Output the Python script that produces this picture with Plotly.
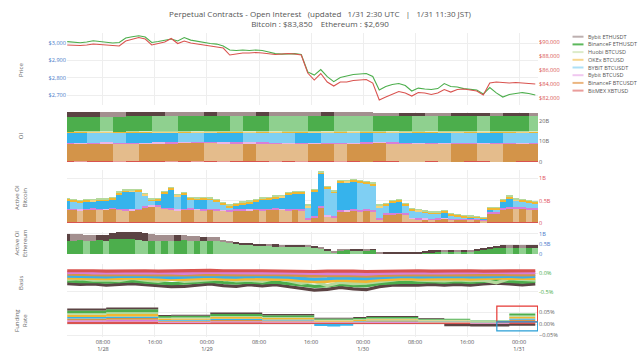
import pandas as pd
import plotly.graph_objects as go

# ---------------- data ----------------
START = "2025-01-28 02:30"
hours = pd.date_range(START, periods=73, freq="1h")
hours2 = pd.date_range(START, periods=37, freq="2h")

x_range = ["2025-01-28 02:28", "2025-01-31 02:55"]
tick_vals = ["2025-01-28 08:00", "2025-01-28 16:00", "2025-01-29 00:00", "2025-01-29 08:00",
             "2025-01-29 16:00", "2025-01-30 00:00", "2025-01-30 08:00", "2025-01-30 16:00",
             "2025-01-31 00:00"]
tick_text = ["08:00<br>1/28", "16:00", "00:00<br>1/29", "08:00", "16:00", "00:00<br>1/30",
             "08:00", "16:00", "00:00<br>1/31"]

names = ["Bybit ETHUSDT", "BinanceF ETHUSDT", "Huobi BTCUSD", "OKEx BTCUSD",
         "BYBIT BTCUSDT", "Bybit BTCUSD", "BinanceF BTCUSDT", "BitMEX XBTUSD"]

# Price (hourly)
eth_price = [3008,3003,3002,3006,3013,3009,3003,3000,3003,3029,3036,3042,3035,3003,3009,3017,3023,3012,
             3032,3017,3009,3003,2997,2994,2983,2960,2957,2960,2957,2960,2957,2948,2939,2936,2939,2939,
             2934,2833,2815,2847,2806,2777,2801,2810,2818,2821,2824,2807,2729,2749,2761,2766,2755,2723,
             2740,2735,2732,2737,2766,2749,2746,2737,2732,2729,2706,2743,2712,2688,2703,2709,2714,2709,2700]
btc_price = [89571,89500,89500,89571,89714,89643,89571,89429,89429,90143,90429,90643,90429,89571,89786,
             90000,90500,89786,90143,89857,89714,89571,89429,89357,89143,88143,88286,88429,88429,88500,
             88429,88357,88214,88286,88357,88286,88143,85571,84571,85500,84286,83714,84286,84286,84500,
             84571,84643,84143,81714,82143,82571,82929,82714,82286,82786,82714,82500,82714,83214,82857,
             83214,83286,83143,83000,82429,84143,84286,84214,84143,84214,84143,84071,84000]

# Open interest (billions, every 2h)
oi_bitmex = [0.26,0.25,0.26,0.26,0.25,0.25,0.26,0.27,0.26,0.26,0.25,0.25,0.24,0.25,0.25,0.26,0.25,0.25,0.24,
             0.24,0.25,0.24,0.24,0.23,0.24,0.24,0.23,0.23,0.24,0.23,0.23,0.24,0.24,0.23,0.23,0.24,0.24]
oi_binf_btc = [8.85,8.88,8.91,8.94,8.92,8.90,8.93,8.96,8.99,9.02,9.05,9.03,9.0,8.98,9.0,8.98,8.95,8.93,8.9,
               8.93,8.96,8.94,8.97,9.0,9.02,8.99,8.96,8.93,8.9,8.88,8.9,8.93,8.91,8.89,8.92,8.95,8.97]
oi_bybit_btcusd = [0.32,0.31,0.32,0.31,0.31,0.32,0.31,0.3,0.31,0.3,0.3,0.31,0.3,0.3,0.29,0.3,0.3,0.29,0.3,
                   0.29,0.29,0.3,0.29,0.29,0.28,0.29,0.29,0.28,0.29,0.28,0.28,0.29,0.28,0.28,0.29,0.28,0.28]
oi_bybit_btcusdt = [4.85,4.88,4.86,4.84,4.82,4.85,4.88,4.9,4.93,4.91,4.89,4.92,4.95,4.97,4.95,4.93,4.9,4.88,
                    4.9,4.93,4.91,4.89,4.87,4.9,4.88,4.86,4.89,4.92,4.94,4.96,4.94,4.92,4.95,4.97,4.95,4.93,4.91]
oi_okex = [0.45,0.46,0.45,0.44,0.45,0.46,0.47,0.46,0.45,0.46,0.45,0.44,0.45,0.46,0.45,0.45,0.44,0.45,0.46,
           0.45,0.44,0.45,0.44,0.44,0.45,0.44,0.43,0.44,0.45,0.44,0.43,0.44,0.43,0.44,0.44,0.43,0.44]
oi_huobi = [0.12,0.12,0.13,0.12,0.12,0.13,0.12,0.12,0.12,0.13,0.12,0.12,0.12,0.13,0.12,0.12,0.11,0.12,0.12,
            0.12,0.11,0.12,0.11,0.11,0.12,0.11,0.11,0.12,0.11,0.11,0.11,0.12,0.11,0.11,0.11,0.12,0.11]
oi_binf_eth = [7.2,7.23,7.26,7.24,7.27,7.3,7.33,7.31,7.29,7.32,7.35,7.37,7.4,7.38,7.4,7.42,7.4,7.37,7.35,
               7.37,7.4,7.38,7.35,7.32,7.34,7.36,7.38,7.36,7.33,7.35,7.37,7.39,7.37,7.39,7.41,7.43,7.41]
oi_bybit_eth = [2.2,2.22,2.25,2.23,2.2,2.24,2.28,2.3,2.27,2.24,2.21,2.23,2.2,2.17,2.14,2.16,2.12,2.08,2.04,
                2.0,2.02,1.97,1.93,1.9,1.5,1.46,1.48,1.5,1.47,1.44,1.46,1.49,1.52,1.5,1.52,1.55,1.53]

# Active OI Bitcoin (billions, hourly)
act_bitmex = [0.01,0.01,0.01,0.01,0.01,0.01,0.01,0.01,0.01,0.01,0.01,0.01,0.01,0.01,0.01,0.01,0.01,0.01,
              0.01,0.01,0.01,0.01,0.01,0.01,0.01,0.01,0.01,0.01,0.01,0.01,0.01,0.01,0.01,0.01,0.01,0.01,
              0.01,0.01,0.01,0.01,0.01,0.01,0.01,0.01,0.01,0.01,0.01,0.01,0.01,0.01,0.01,0.01,0.01,0.01,
              0.01,0.01,0.01,0.01,0.01,0.01,0.01,0.01,0.01,0.01,0.01,0.01,0.01,0.01,0.01,0.01,0.01,0.01,0.01]
act_binf_btc = [0.28,0.28,0.27,0.28,0.29,0.28,0.29,0.30,0.28,0.27,0.27,0.28,0.34,0.36,0.35,0.30,0.28,0.27,
                0.28,0.29,0.28,0.27,0.28,0.27,0.26,0.25,0.26,0.27,0.27,0.28,0.27,0.28,0.29,0.28,0.27,0.28,
                0.26,0.07,0.10,0.33,0.14,0.12,0.24,0.25,0.26,0.25,0.26,0.25,0.07,0.17,0.18,0.19,0.17,0.08,
                0.07,0.07,0.06,0.07,0.08,0.06,0.06,0.07,0.06,0.06,0.04,0.19,0.20,0.28,0.30,0.29,0.29,0.28,0.28]
act_bybit_btcusd = [0.03,0.03,0.02,0.03,0.03,0.03,0.02,0.03,0.03,0.04,0.03,0.03,0.03,0.02,0.03,0.03,0.04,0.03,
                    0.03,0.03,0.02,0.03,0.03,0.03,0.02,0.02,0.03,0.03,0.02,0.03,0.03,0.03,0.03,0.02,0.03,0.03,
                    0.03,0.03,0.04,0.04,0.03,0.03,0.04,0.03,0.03,0.03,0.03,0.03,0.03,0.03,0.03,0.03,0.03,0.02,
                    0.03,0.02,0.02,0.03,0.02,0.02,0.02,0.02,0.02,0.02,0.02,0.04,0.04,0.05,0.05,0.05,0.05,0.05,0.05]
act_bybit_btcusdt = [0.18,0.16,0.15,0.15,0.15,0.17,0.17,0.18,0.31,0.36,0.38,0.37,0.23,0.10,0.11,0.30,0.40,0.28,
                     0.31,0.19,0.20,0.21,0.19,0.16,0.12,0.07,0.09,0.11,0.14,0.16,0.20,0.20,0.21,0.25,0.31,0.33,
                     0.34,0.24,0.54,0.70,0.58,0.50,0.59,0.60,0.61,0.60,0.57,0.54,0.24,0.18,0.23,0.24,0.18,0.17,
                     0.15,0.13,0.12,0.10,0.13,0.08,0.06,0.03,0.03,0.02,0.02,0.06,0.05,0.14,0.18,0.14,0.12,0.11,0.09]
act_okex = [0.04,0.04,0.04,0.05,0.04,0.04,0.04,0.04,0.05,0.05,0.04,0.05,0.04,0.04,0.04,0.05,0.05,0.04,
            0.04,0.04,0.04,0.04,0.04,0.04,0.04,0.04,0.04,0.04,0.04,0.04,0.04,0.04,0.05,0.04,0.05,0.05,
            0.05,0.04,0.05,0.05,0.05,0.05,0.06,0.05,0.05,0.05,0.05,0.05,0.04,0.04,0.04,0.04,0.04,0.04,
            0.03,0.03,0.03,0.03,0.03,0.03,0.03,0.03,0.03,0.03,0.03,0.04,0.04,0.04,0.05,0.04,0.04,0.04,0.04]
act_huobi = [0.01,0.01,0.01,0.01,0.01,0.01,0.01,0.01,0.01,0.01,0.01,0.01,0.01,0.01,0.01,0.01,0.01,0.01,
             0.01,0.01,0.01,0.01,0.01,0.01,0.01,0.01,0.01,0.01,0.01,0.01,0.01,0.01,0.01,0.01,0.01,0.01,
             0.01,0.01,0.01,0.01,0.01,0.01,0.01,0.01,0.01,0.01,0.01,0.01,0.01,0.01,0.01,0.01,0.01,0.01,
             0.01,0.01,0.01,0.01,0.01,0.01,0.01,0.01,0.01,0.01,0.01,0.01,0.01,0.01,0.01,0.01,0.01,0.01,0.01]

# Active OI Ethereum (billions, hourly)
act_binf_eth = [0.66,0.67,0.68,0.66,0.67,0.68,0.66,0.73,0.74,0.75,0.75,0.72,0.66,0.67,0.66,0.67,0.66,0.67,
                0.68,0.66,0.67,0.66,0.67,0.66,0.60,0.56,0.52,0.50,0.48,0.45,0.44,0.42,0.40,0.39,0.38,0.37,
                0.34,0.33,0.30,0.29,0.18,0.07,0.20,0.21,0.20,0.19,0.20,0.21,0.04,0.04,0.03,0.04,0.03,0.04,
                0.05,0.08,0.10,0.12,0.11,0.12,0.11,0.12,0.11,0.15,0.20,0.25,0.28,0.29,0.28,0.29,0.28,0.29,0.28]
act_bybit_eth = [0.34,0.31,0.30,0.29,0.28,0.28,0.29,0.32,0.34,0.35,0.37,0.39,0.39,0.34,0.31,0.29,0.28,0.29,
                 0.26,0.24,0.21,0.21,0.19,0.17,0.10,0.05,0.05,0.05,0.06,0.06,0.07,0.06,0.08,0.07,0.08,0.09,
                 0.12,0.10,0.10,0.08,0.08,0.05,0.04,0.03,0.04,0.04,0.03,0.04,0.03,0.03,0.03,0.03,0.03,0.03,
                 0.05,0.08,0.08,0.09,0.08,0.09,0.08,0.09,0.08,0.10,0.10,0.12,0.13,0.17,0.16,0.17,0.16,0.17,0.17]

# Basis (%, every 2h)
basis_bitmex = [0.06,0.07,0.06,0.05,0.06,0.07,0.06,0.05,0.06,0.05,0.06,0.07,0.06,0.05,0.06,0.06,0.05,0.06,
                0.05,0.04,0.05,0.06,0.05,0.04,0.05,0.06,0.05,0.06,0.05,0.06,0.05,0.06,0.05,0.05,0.06,0.05,0.06]
basis_bybit_btcusd = [0.01,0.02,0.0,0.01,0.02,0.01,0.0,0.01,0.0,-0.01,0.01,0.02,0.01,0.0,0.01,0.0,0.01,0.0,
                      -0.02,-0.03,-0.02,-0.01,-0.02,-0.03,-0.01,0.0,0.01,0.0,0.01,0.0,0.01,0.0,0.01,0.02,0.01,0.0,0.01]
basis_binf_btc = [-0.03,-0.04,-0.03,-0.05,-0.04,-0.03,-0.04,-0.05,-0.06,-0.05,-0.04,-0.03,-0.04,-0.05,-0.04,
                  -0.05,-0.04,-0.05,-0.07,-0.08,-0.07,-0.06,-0.07,-0.08,-0.06,-0.05,-0.04,-0.05,-0.04,-0.05,
                  -0.04,-0.05,-0.04,-0.03,-0.04,-0.05,-0.04]
basis_bybit_btcusdt = [-0.08,-0.09,-0.08,-0.1,-0.09,-0.08,-0.09,-0.1,-0.12,-0.11,-0.09,-0.08,-0.1,-0.11,-0.09,
                       -0.1,-0.09,-0.11,-0.14,-0.16,-0.15,-0.13,-0.14,-0.15,-0.12,-0.1,-0.09,-0.1,-0.09,-0.1,
                       -0.09,-0.1,-0.09,-0.08,-0.09,-0.1,-0.09]
basis_okex = [-0.13,-0.14,-0.13,-0.15,-0.14,-0.13,-0.15,-0.16,-0.18,-0.17,-0.15,-0.14,-0.16,-0.17,-0.15,
              -0.16,-0.15,-0.17,-0.2,-0.23,-0.22,-0.19,-0.21,-0.22,-0.18,-0.16,-0.15,-0.16,-0.15,-0.16,
              -0.15,-0.16,-0.14,-0.13,-0.14,-0.15,-0.14]
basis_huobi = [-0.17,-0.15,-0.19,-0.18,-0.2,-0.14,-0.19,-0.22,-0.16,-0.22,-0.2,-0.17,-0.15,-0.21,-0.19,
               -0.22,-0.14,-0.2,-0.27,-0.22,-0.33,-0.25,-0.28,-0.27,-0.23,-0.2,-0.15,-0.19,-0.2,-0.21,
               -0.18,-0.2,-0.19,-0.26,-0.15,-0.18,-0.19]
basis_binf_eth = [-0.21,-0.23,-0.22,-0.24,-0.23,-0.21,-0.24,-0.26,-0.28,-0.27,-0.24,-0.22,-0.25,-0.27,-0.24,
                  -0.26,-0.24,-0.27,-0.31,-0.35,-0.34,-0.3,-0.33,-0.34,-0.28,-0.25,-0.24,-0.25,-0.23,-0.25,
                  -0.23,-0.25,-0.22,-0.2,-0.22,-0.24,-0.22]
basis_bybit_eth = [-0.28,-0.3,-0.29,-0.32,-0.3,-0.28,-0.31,-0.34,-0.36,-0.35,-0.31,-0.29,-0.33,-0.35,-0.31,
                   -0.34,-0.31,-0.35,-0.4,-0.45,-0.43,-0.38,-0.42,-0.44,-0.36,-0.32,-0.31,-0.32,-0.3,-0.32,
                   -0.3,-0.32,-0.29,-0.27,-0.29,-0.31,-0.29]

# Funding rate (%, every 2h)
fund_bitmex = [0.010,0.010,0.010,0.011,0.011,0.011,0.011,0.006,0.006,0.006,0.006,0.0075,0.0075,0.0075,0.0075,
               0.0065,0.0065,0.0065,0.0065,0.0045,0.0045,0.0045,0.0045,0.005,0.005,0.005,0.005,
               0.004,0.004,0.004,0.004,0.0025,0.0025,0.0025,0.008,0.008,0.008]
fund_bybit_btcusd = [0.0067,0.0067,0.0067,0.0072,0.0072,0.0072,0.0072,0.0039,0.0041,0.0041,0.0041,0.005,0.005,
                     0.005,0.005,0.0043,0.0043,0.0043,0.0043,0.003,0.003,0.003,0.003,0.0035,0.0035,0.0035,
                     0.0035,0.0026,0.0026,0.0026,0.0026,0.0017,0.0017,0.0017,0.0052,0.0052,0.0052]
fund_binf_btc = [0.007,0.007,0.007,0.0075,0.0075,0.0075,0.0075,0.004,0.004,0.004,0.004,0.0052,0.0052,0.0052,
                 0.0052,0.0045,0.0045,0.0045,0.0045,0.0032,0.0032,0.0032,0.0032,0.0036,0.0036,0.0036,0.0036,
                 0.0027,0.0027,0.0027,0.0027,0.0018,0.0018,0.0018,0.0055,0.0055,0.0055]
fund_bybit_btcusdt = [0.0065,0.0065,0.0065,0.007,0.007,0.007,0.007,0.0038,0.004,0.004,0.004,0.0048,0.0048,
                      0.0048,0.0048,0.0042,0.0042,0.0042,0.0042,-0.009,-0.011,-0.008,0.0028,0.0034,0.0034,
                      0.0034,0.0034,0.0025,0.0025,0.0025,0.0025,0.0016,0.0016,0.0016,0.005,0.005,0.005]
fund_okex = [0.010,0.010,0.010,0.0108,0.0108,0.0108,0.0108,0.0058,0.0062,0.0062,0.0062,0.0075,0.0075,0.0075,
             0.0075,0.0064,0.0064,0.0064,0.0064,0.0045,0.0045,0.0045,0.0045,0.0052,0.0052,0.0052,0.0052,
             0.0039,0.0039,0.0039,0.0039,0.0026,0.0026,0.0026,0.0078,0.0078,0.0078]
fund_huobi = [0.0067,0.0067,0.0067,0.0072,0.0072,0.0072,0.0072,0.0039,0.0041,0.0041,0.0041,0.005,0.005,
              0.005,0.005,0.0043,0.0043,0.0043,0.0043,0.003,0.003,0.003,0.003,0.0035,0.0035,0.0035,
              0.0035,0.0026,0.0026,0.0026,0.0026,0.0017,0.0017,0.0017,0.0052,0.0052,0.0052]
fund_binf_eth = [0.012,0.012,0.012,0.013,0.013,0.013,0.013,0.007,0.0074,0.0074,0.0074,0.009,0.009,0.009,0.009,
                 0.0077,0.0077,0.0077,0.0077,0.0054,0.0054,0.0054,0.0054,0.0063,0.0063,0.0063,0.0063,
                 0.0047,0.0047,0.0047,0.0047,0.0031,0.0031,0.0031,0.0094,0.0094,0.0094]
fund_bybit_eth = [0.008,0.008,0.008,0.0086,0.0086,0.0086,0.0086,0.0047,0.0049,0.0049,0.0049,0.006,0.006,0.006,
                  0.006,0.0052,0.0052,0.0052,0.0052,0.0036,0.0036,0.0036,0.0036,0.0042,0.0042,0.0042,0.0042,
                  0.0031,0.0031,-0.01,-0.01,-0.011,-0.011,-0.011,-0.008,-0.008,-0.008]

# highlight boxes in funding panel (time, %)
box_t0, box_t1 = "2025-01-30 20:35", "2025-01-31 02:52"
box_red = (0.009, 0.078)
box_blue = (-0.03, 0.009)

# ---------------- styles ----------------
DARK = {"Bybit ETHUSDT": "#5b4343", "BinanceF ETHUSDT": "#4cae4c", "Huobi BTCUSD": "#b5d99c",
        "OKEx BTCUSD": "#f0b732", "BYBIT BTCUSDT": "#36b3ec", "Bybit BTCUSD": "#d77fd7",
        "BinanceF BTCUSDT": "#d39449", "BitMEX XBTUSD": "#d9534f"}
LIGHT = {"Bybit ETHUSDT": "#a38f8f", "BinanceF ETHUSDT": "#8fd08f", "Huobi BTCUSD": "#d5eac3",
         "OKEx BTCUSD": "#f7d27a", "BYBIT BTCUSDT": "#7fcff3", "Bybit BTCUSD": "#eab5ea",
         "BinanceF BTCUSDT": "#e4bc8c", "BitMEX XBTUSD": "#eb9a98"}
LEG = {"Bybit ETHUSDT": "#bdb0b0", "BinanceF ETHUSDT": "#5cb85c", "Huobi BTCUSD": "#dcebc9",
       "OKEx BTCUSD": "#f7d68e", "BYBIT BTCUSDT": "#ade0f7", "Bybit BTCUSD": "#f0c8f0",
       "BinanceF BTCUSDT": "#ebb680", "BitMEX XBTUSD": "#ea9d9b"}
FONT = "Open Sans, Verdana, Arial, sans-serif"
TS = 5.6  # tick label size


def shades(vals, name):
    out = []
    for i, v in enumerate(vals):
        out.append(DARK[name] if i == 0 or v >= vals[i - 1] else LIGHT[name])
    return out


fig = go.Figure()

# Price
fig.add_trace(go.Scatter(x=hours, y=eth_price, mode="lines", line=dict(color="#4cae4c", width=1.1),
                         xaxis="x", yaxis="y", showlegend=False, name="BinanceF ETHUSDT"))
fig.add_trace(go.Scatter(x=hours, y=btc_price, mode="lines", line=dict(color="#d9534f", width=1.1),
                         xaxis="x", yaxis="y7", showlegend=False, name="BitMEX XBTUSD"))

# OI stacked bars (bottom to top)
oi_stack = [("BitMEX XBTUSD", oi_bitmex), ("BinanceF BTCUSDT", oi_binf_btc), ("Bybit BTCUSD", oi_bybit_btcusd),
            ("BYBIT BTCUSDT", oi_bybit_btcusdt), ("OKEx BTCUSD", oi_okex), ("Huobi BTCUSD", oi_huobi),
            ("BinanceF ETHUSDT", oi_binf_eth), ("Bybit ETHUSDT", oi_bybit_eth)]
for nm, vals in oi_stack:
    fig.add_trace(go.Bar(x=hours2, y=vals, width=2 * 3600 * 1000, name=nm, showlegend=False,
                         marker=dict(color=shades(vals, nm), line=dict(width=0)), xaxis="x2", yaxis="y2"))

act_stack = [("BitMEX XBTUSD", act_bitmex), ("BinanceF BTCUSDT", act_binf_btc), ("Bybit BTCUSD", act_bybit_btcusd),
             ("BYBIT BTCUSDT", act_bybit_btcusdt), ("OKEx BTCUSD", act_okex), ("Huobi BTCUSD", act_huobi)]
for nm, vals in act_stack:
    fig.add_trace(go.Bar(x=hours, y=vals, width=3600 * 1000, name=nm, showlegend=False,
                         marker=dict(color=shades(vals, nm), line=dict(width=0)), xaxis="x3", yaxis="y3"))

eth_stack = [("BinanceF ETHUSDT", act_binf_eth), ("Bybit ETHUSDT", act_bybit_eth)]
for nm, vals in eth_stack:
    fig.add_trace(go.Bar(x=hours, y=vals, width=3600 * 1000, name=nm, showlegend=False,
                         marker=dict(color=shades(vals, nm), line=dict(width=0)), xaxis="x4", yaxis="y4"))

basis = [("Bybit ETHUSDT", basis_bybit_eth), ("BinanceF ETHUSDT", basis_binf_eth), ("Huobi BTCUSD", basis_huobi),
         ("OKEx BTCUSD", basis_okex), ("BYBIT BTCUSDT", basis_bybit_btcusdt), ("BinanceF BTCUSDT", basis_binf_btc),
         ("Bybit BTCUSD", basis_bybit_btcusd), ("BitMEX XBTUSD", basis_bitmex)]
for nm, vals in basis:
    fig.add_trace(go.Scatter(x=hours2, y=vals, mode="lines", name=nm, showlegend=False,
                             line=dict(color=DARK[nm], width=3.2), xaxis="x5", yaxis="y5"))

funding = [("BitMEX XBTUSD", fund_bitmex), ("Bybit BTCUSD", fund_bybit_btcusd), ("BinanceF BTCUSDT", fund_binf_btc),
           ("BYBIT BTCUSDT", fund_bybit_btcusdt), ("OKEx BTCUSD", fund_okex), ("Huobi BTCUSD", fund_huobi),
           ("BinanceF ETHUSDT", fund_binf_eth), ("Bybit ETHUSDT", fund_bybit_eth)]
for grp in ["pos", "neg"]:
    for nm, vals in funding:
        part = [max(v, 0) for v in vals] if grp == "pos" else [min(v, 0) for v in vals]
        if grp == "neg" and not any(part):
            continue
        fig.add_trace(go.Scatter(x=hours2, y=part, mode="lines", name=nm, showlegend=False, stackgroup=grp,
                                 line=dict(width=0, shape="hv"), fillcolor=DARK[nm], xaxis="x6", yaxis="y6"))

# ---------------- layout ----------------
GRID = "#eeeeee"
TICKF = dict(size=TS, color="#555", family=FONT)


def xax(anchor, labels=False):
    return dict(domain=[0, 1], anchor=anchor, range=x_range, type="date", tickvals=tick_vals,
                ticktext=tick_text, showgrid=True, gridcolor=GRID, zeroline=False, showline=False,
                showticklabels=labels, ticks="", tickfont=TICKF, automargin=False)


def yax(dom, rng, tv, tt, color, side="right"):
    d = dict(range=rng, tickvals=tv, ticktext=tt, side=side, showgrid=True,
             gridcolor=GRID, zeroline=False, showline=False, ticks="", automargin=False,
             tickfont=dict(size=TS, color=color, family=FONT), fixedrange=True)
    if dom is not None:
        d["domain"] = dom
    return d


y7 = yax(None, [81000, 91286], [82000, 84000, 86000, 88000, 90000],
         ["$82,000", "$84,000", "$86,000", "$88,000", "$90,000"], "#d9534f")
y7.update(overlaying="y", anchor="x", showgrid=False)

fig.update_layout(
    template="none",
    width=640, height=360, autosize=False, paper_bgcolor="white", plot_bgcolor="white",
    margin=dict(l=67, r=102, t=33, b=23, autoexpand=False), barmode="stack", bargap=0, showlegend=False,
    font=dict(family=FONT, size=7, color="#555"),
    title=dict(text="Perpetual Contracts - Open Interest \u00a0 (updated \u00a0 1/31 2:30 UTC \u00a0 | \u00a0 1/31 11:30 JST)"
                    "<br>Bitcoin : $83,850 \u00a0\u00a0 Ethereum : $2,690",
               x=0.5, xref="container", xanchor="center", y=1 - 17 / 360, yref="container", yanchor="middle",
               font=dict(size=8, color="#555", family=FONT)),
    xaxis=xax("y"), xaxis2=xax("y2"), xaxis3=xax("y3"), xaxis4=xax("y4"), xaxis5=xax("y5"),
    xaxis6=xax("y6", labels=True),
    yaxis=yax([0.763, 1.0], [2642, 3058], [2700, 2800, 2900, 3000],
              ["$2,700", "$2,800", "$2,900", "$3,000"], "#4a7ac9", side="left"),
    yaxis2=yax([0.5757, 0.7401], [0, 24.39], [0, 10, 20], ["0", "10B", "20B"], "#666"),
    yaxis3=yax([0.375, 0.549], [0, 1.178], [0, 0.5, 1], ["0", "0.5B", "1B"], "#e0505a"),
    yaxis4=yax([0.273, 0.3454], [0, 1.1], [0, 0.5, 1], ["0", "0.5B", "1B"], "#4a7ac9"),
    yaxis5=yax([0.1217, 0.2401], [-0.711, 0.237], [0, -0.5], ["0.0%", "-0.5%"], "#4cae4c"),
    yaxis6=yax([0, 0.1118], [-0.0565, 0.0913], [0.05, 0, -0.05], ["0.05%", "0.00%", "\u22120.05%"], "#666"),
    yaxis7=y7,
)

# y-axis titles
titles = [("Price", 0.878), ("OI", 0.664), ("Active OI<br>Bitcoin", 0.4605),
          ("Active OI<br>Ethereum", 0.309), ("Basis", 0.181), ("Funding<br>Rate", 0.056)]
for txt, yy in titles:
    fig.add_annotation(text=txt, x=-0.0977, y=yy, xref="paper", yref="paper", showarrow=False,
                       textangle=-90, xanchor="center", yanchor="middle",
                       font=dict(size=6, color="#666", family=FONT))

# manual legend
for i, nm in enumerate(names):
    y_px = 36.7 + 7.7 * i
    yy = (337 - y_px) / 304
    fig.add_shape(type="line", xref="paper", yref="paper", x0=1.0733, x1=1.0966, y0=yy, y1=yy,
                  line=dict(color=LEG[nm], width=2))
    fig.add_annotation(text=nm, x=1.1019, y=yy, xref="paper", yref="paper", showarrow=False,
                       xanchor="left", yanchor="middle", font=dict(size=5.5, color="#555", family=FONT))

# highlight boxes
fig.add_shape(type="rect", xref="x6", yref="y6", x0=box_t0, x1=box_t1, y0=box_red[0], y1=box_red[1],
              line=dict(color="#e53935", width=1.2))
fig.add_shape(type="rect", xref="x6", yref="y6", x0=box_t0, x1=box_t1, y0=box_blue[0], y1=box_blue[1],
              line=dict(color="#2a9fd6", width=1.2))

fig.write_html("out.html", config={"displayModeBar": False},
               post_script="document.body.style.margin='0';document.body.style.overflow='hidden';")
